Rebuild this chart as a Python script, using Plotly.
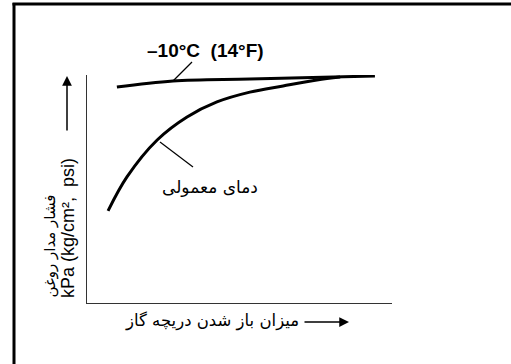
import plotly.graph_objects as go

# Data (throttle opening %, oil pressure relative units)
cold_x = [9.8, 28.2, 53.4, 80.7, 94.4]
cold_y = [94.7, 97.4, 98.2, 99.1, 99.6]
normal_x = [6.9, 13.1, 23.0, 32.8, 42.6, 53.4, 64.3, 75.4, 83.0]
normal_y = [40.4, 55.3, 71.5, 81.6, 88.2, 92.5, 95.2, 97.8, 99.1]

cold_label = "–10°C  (14°F)"
normal_label = "دمای معمولی"
y_title_fa = "فشار مدار روغن"
y_title_en = "kPa (kg/cm²,  psi)"
x_title = "میزان باز شدن دریچه گاز"

W, H = 511, 364
L, R, T, B = 87, 119, 75, 61
PW, PH = W - L - R, H - T - B


def fx(px):
    return (px - L) / PW


def fy(py):
    return (H - B - py) / PH


fig = go.Figure()
fig.add_trace(go.Scatter(x=cold_x, y=cold_y, mode="lines",
                         line=dict(color="black", width=3, shape="spline"),
                         showlegend=False, hoverinfo="skip"))
fig.add_trace(go.Scatter(x=normal_x, y=normal_y, mode="lines",
                         line=dict(color="black", width=3, shape="spline"),
                         showlegend=False, hoverinfo="skip"))

axis_common = dict(showline=True, linecolor="#333", linewidth=1.2, showgrid=False,
                   zeroline=False, showticklabels=False, ticks="", mirror=False,
                   fixedrange=True)
fig.update_xaxes(range=[0, 100], **axis_common)
fig.update_yaxes(range=[0, 100], **axis_common)

shapes = [
    # frame (left and top)
    dict(type="line", xref="paper", yref="paper", x0=fx(14), y0=fy(3), x1=fx(14), y1=fy(370),
         line=dict(color="black", width=3)),
    dict(type="line", xref="paper", yref="paper", x0=fx(12.5), y0=fy(4), x1=fx(520), y1=fy(4),
         line=dict(color="black", width=3)),
    # leader lines
    dict(type="line", xref="paper", yref="paper", x0=fx(192), y0=fy(62), x1=fx(173), y1=fy(81),
         line=dict(color="black", width=1.2)),
    dict(type="line", xref="paper", yref="paper", x0=fx(160), y0=fy(142), x1=fx(193), y1=fy(167),
         line=dict(color="black", width=1.2)),
]

annotations = [
    dict(xref="paper", yref="paper", x=fx(205), y=fy(51), text="<b>" + cold_label + "</b>",
         showarrow=False, font=dict(family="Liberation Sans, Arial", size=19, color="black"),
         xanchor="center", yanchor="middle"),
    dict(xref="paper", yref="paper", x=fx(210), y=fy(187), text=normal_label,
         showarrow=False, font=dict(family="DejaVu Sans", size=17, color="black"),
         xanchor="center", yanchor="middle"),
    dict(xref="paper", yref="paper", x=fx(49), y=fy(300), text=y_title_fa, textangle=-90,
         showarrow=False, font=dict(family="DejaVu Sans", size=15, color="black"),
         xanchor="center", yanchor="bottom"),
    dict(xref="paper", yref="paper", x=fx(68), y=fy(300), text=y_title_en, textangle=-90,
         showarrow=False, font=dict(family="Liberation Sans, Arial", size=18, color="black"),
         xanchor="center", yanchor="bottom"),
    dict(xref="paper", yref="paper", x=fx(212), y=fy(321), text=x_title,
         showarrow=False, font=dict(family="DejaVu Sans", size=16.5, color="black"),
         xanchor="center", yanchor="middle"),
    # arrows
    dict(xref="paper", yref="paper", x=fx(67), y=fy(76), ax=0, ay=56, text="",
         showarrow=True, arrowhead=2, arrowsize=1.3, arrowwidth=1.5, arrowcolor="black"),
    dict(xref="paper", yref="paper", x=fx(349), y=fy(322), ax=-46, ay=0, text="",
         showarrow=True, arrowhead=2, arrowsize=1.3, arrowwidth=1.5, arrowcolor="black"),
]

fig.update_layout(width=W, height=H, margin=dict(l=L, r=R, t=T, b=B, pad=0),
                  paper_bgcolor="white", plot_bgcolor="white",
                  shapes=shapes, annotations=annotations, showlegend=False)

fig.write_html("out.html", config={"displayModeBar": False},
               post_script="document.body.style.margin='0';document.body.style.overflow='hidden';")
